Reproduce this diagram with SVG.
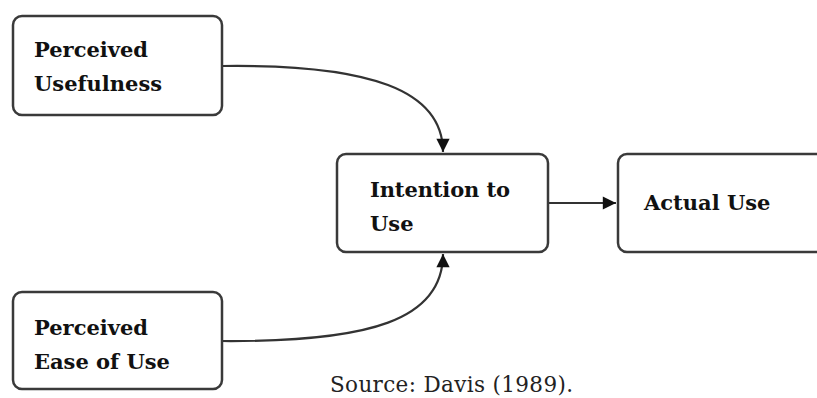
<svg xmlns="http://www.w3.org/2000/svg" width="817" height="398" viewBox="0 0 817 398">
<style>
.box{fill:#fff;stroke:#3a3a3a;stroke-width:2.5}
.lbl{font-family:"DejaVu Serif","Liberation Serif",serif;font-weight:bold;font-size:21px;fill:#111}
.src{font-family:"DejaVu Serif","Liberation Serif",serif;font-size:21.5px;fill:#222}
.con{fill:none;stroke:#333;stroke-width:2.2}
</style>
<defs>
<marker id="arr" viewBox="0 0 10 10" refX="10" refY="5" markerWidth="6.5" markerHeight="6" orient="auto" markerUnits="strokeWidth">
<path d="M0,0 L10,5 L0,10 z" fill="#111"/>
</marker>
</defs>
<g id="connectors">
<path class="con" d="M222,66 C370,64 443,90 443,152" marker-end="url(#arr)"/>
<path class="con" d="M222,341 C370,342 443,320 443,254" marker-end="url(#arr)"/>
<path class="con" d="M548,203 L616,203" marker-end="url(#arr)"/>
</g>
<g id="pu">
<rect class="box" x="13" y="16" width="209" height="99" rx="9"/>
<text class="lbl" x="34" y="57">Perceived</text>
<text class="lbl" x="34" y="91">Usefulness</text>
</g>
<g id="itu">
<rect class="box" x="337" y="154" width="211" height="98" rx="9"/>
<text class="lbl" x="370" y="197" textLength="140">Intention to</text>
<text class="lbl" x="370" y="231">Use</text>
</g>
<g id="au">
<rect class="box" x="618" y="154" width="230" height="98" rx="9"/>
<text class="lbl" x="644" y="210">Actual Use</text>
</g>
<g id="peou">
<rect class="box" x="13" y="292" width="209" height="97" rx="9"/>
<text class="lbl" x="34" y="335">Perceived</text>
<text class="lbl" x="34" y="369">Ease of Use</text>
</g>
<text class="src" x="330" y="392" textLength="243">Source: Davis (1989).</text>
</svg>
